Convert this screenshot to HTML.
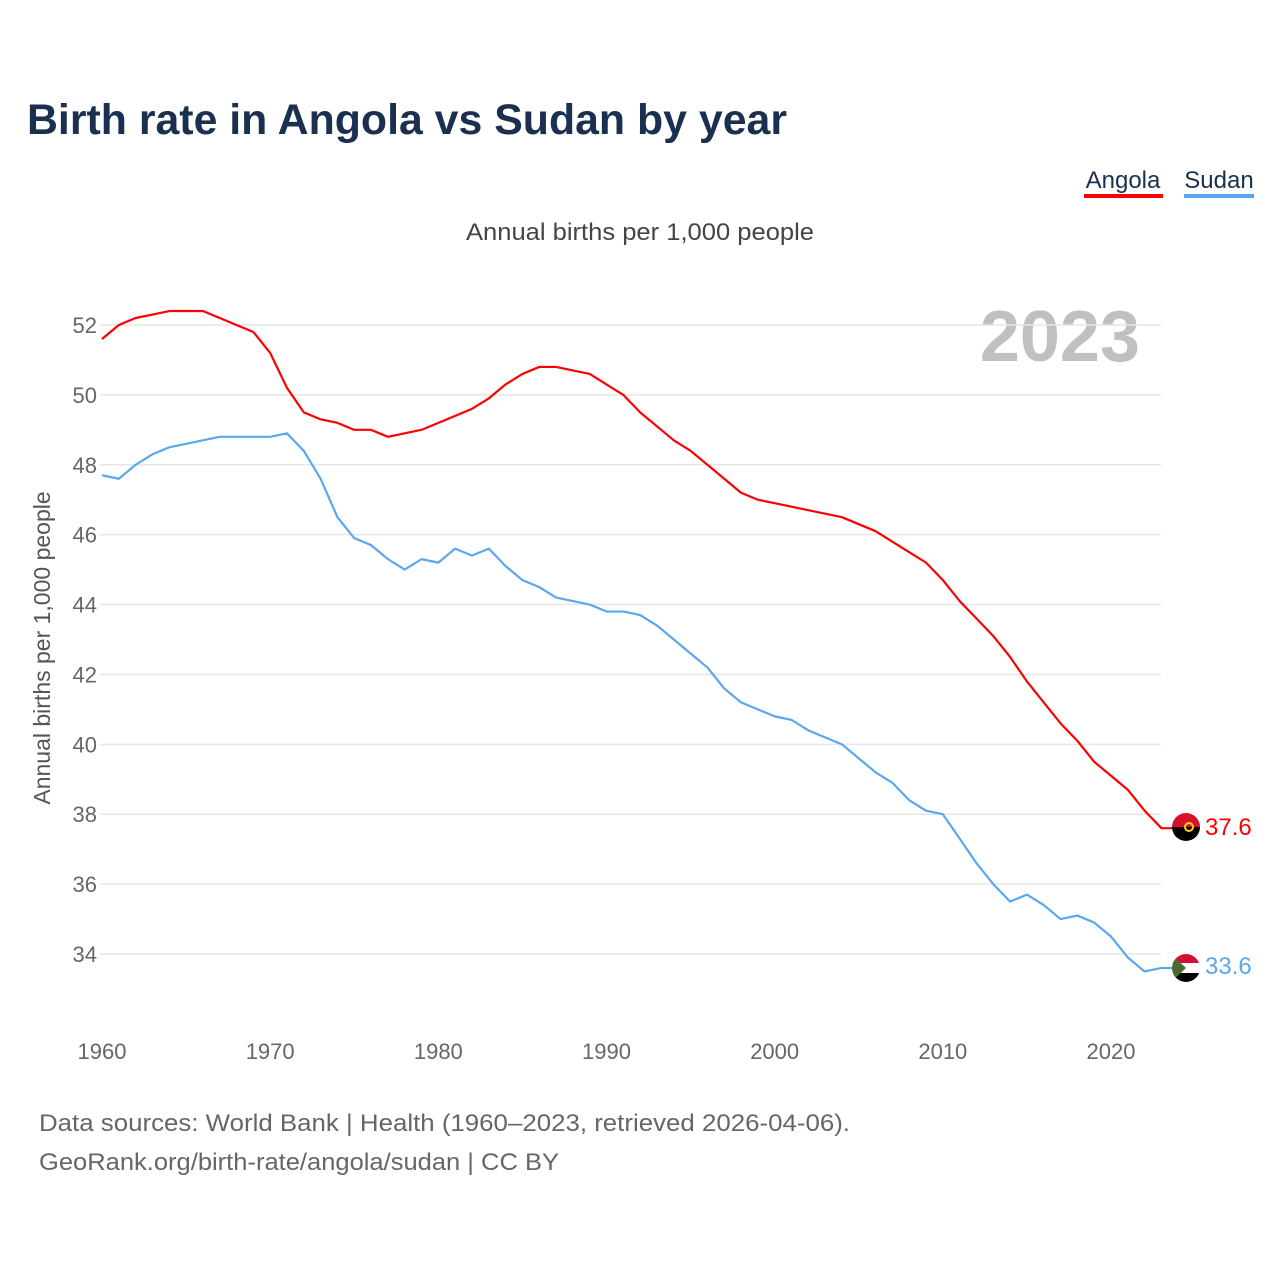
<!DOCTYPE html>
<html><head><meta charset="utf-8"><style>
body{margin:0;background:#fff;font-family:"Liberation Sans",sans-serif}
svg text{font-family:"Liberation Sans",sans-serif}
</style></head><body>
<svg width="1280" height="1280">
<text x="27" y="134" font-size="43" font-weight="bold" fill="#1b3050" textLength="760" lengthAdjust="spacingAndGlyphs">Birth rate in Angola vs Sudan by year</text>
<g>
<text x="1123" y="188" font-size="24" fill="#1b3050" text-anchor="middle">Angola</text>
<rect x="1084" y="194" width="79" height="4" fill="#ff0000"/>
<text x="1219" y="188" font-size="24" fill="#1b3050" text-anchor="middle">Sudan</text>
<rect x="1184" y="194" width="70" height="4" fill="#5aa7ee"/>
</g>
<text x="466" y="240" font-size="24" fill="#444" textLength="348" lengthAdjust="spacingAndGlyphs">Annual births per 1,000 people</text>
<text x="1140" y="361" font-size="72" font-weight="bold" fill="#c0c0c0" text-anchor="end">2023</text>
<text transform="translate(50,648) rotate(-90)" font-size="23" fill="#555" text-anchor="middle">Annual births per 1,000 people</text>
<g id="grid"></g><g id="xt"></g><g id="lines"></g>
<g>
<clipPath id="ca"><circle cx="1186" cy="827" r="14"/></clipPath>
<g clip-path="url(#ca)"><rect x="1170" y="812" width="32" height="15" fill="#d8102a"/><rect x="1170" y="827" width="32" height="15" fill="#000"/><circle cx="1189" cy="827" r="4" fill="none" stroke="#f9d616" stroke-width="2"/></g>
</g>
<text x="1205" y="835" font-size="24" fill="#ff0000">37.6</text>
<g>
<clipPath id="cs"><circle cx="1186" cy="968" r="14"/></clipPath>
<g clip-path="url(#cs)"><rect x="1170" y="953" width="32" height="10" fill="#d21034"/><rect x="1170" y="963" width="32" height="10" fill="#fff"/><rect x="1170" y="973" width="32" height="10" fill="#000"/><polygon points="1170,953 1186,968 1170,983" fill="#4d6b2e"/></g>
</g>
<text x="1205" y="974" font-size="24" fill="#5aa7ee">33.6</text>
<text x="39" y="1131" font-size="24" fill="#666" textLength="811" lengthAdjust="spacingAndGlyphs">Data sources: World Bank | Health (1960–2023, retrieved 2026-04-06).</text>
<text x="39" y="1170" font-size="24" fill="#666" textLength="520" lengthAdjust="spacingAndGlyphs">GeoRank.org/birth-rate/angola/sudan | CC BY</text>
</svg>
<script>
const years=[];for(let y=1960;y<=2023;y++)years.push(y);
const angola=[51.6,52.0,52.2,52.3,52.4,52.4,52.4,52.2,52.0,51.8,51.2,50.2,49.5,49.3,49.2,49.0,49.0,48.8,48.9,49.0,49.2,49.4,49.6,49.9,50.3,50.6,50.8,50.8,50.7,50.6,50.3,50.0,49.5,49.1,48.7,48.4,48.0,47.6,47.2,47.0,46.9,46.8,46.7,46.6,46.5,46.3,46.1,45.8,45.5,45.2,44.7,44.1,43.6,43.1,42.5,41.8,41.2,40.6,40.1,39.5,39.1,38.7,38.1,37.6];
const sudan=[47.7,47.6,48.0,48.3,48.5,48.6,48.7,48.8,48.8,48.8,48.8,48.9,48.4,47.6,46.5,45.9,45.7,45.3,45.0,45.3,45.2,45.6,45.4,45.6,45.1,44.7,44.5,44.2,44.1,44.0,43.8,43.8,43.7,43.4,43.0,42.6,42.2,41.6,41.2,41.0,40.8,40.7,40.4,40.2,40.0,39.6,39.2,38.9,38.4,38.1,38.0,37.3,36.6,36.0,35.5,35.7,35.4,35.0,35.1,34.9,34.5,33.9,33.5,33.6];
const yTicks=[34,36,38,40,42,44,46,48,50,52];
const xTicks=[1960,1970,1980,1990,2000,2010,2020];
const X=v=>102+(v-1960)*(1111-102)/60;
const Y=v=>954-(v-34)*(954-325)/18;
const NS='http://www.w3.org/2000/svg';
const grid=document.getElementById('grid'),xt=document.getElementById('xt'),lines=document.getElementById('lines');
yTicks.forEach(t=>{
 const l=document.createElementNS(NS,'line');
 l.setAttribute('x1',100);l.setAttribute('x2',1161);l.setAttribute('y1',Y(t));l.setAttribute('y2',Y(t));
 l.setAttribute('stroke','#e6e6e6');l.setAttribute('stroke-width','1.5');
 
 
 grid.appendChild(l);
 const tx=document.createElementNS(NS,'text');
 tx.setAttribute('x',97);tx.setAttribute('y',Y(t)+8);tx.setAttribute('text-anchor','end');
 tx.setAttribute('font-size','22');tx.setAttribute('fill','#666');tx.textContent=t;
 
 
 grid.appendChild(tx);
});
xTicks.forEach(t=>{
 const tx=document.createElementNS(NS,'text');
 tx.setAttribute('x',X(t));tx.setAttribute('y',1059);tx.setAttribute('text-anchor','middle');
 tx.setAttribute('font-size','22');tx.setAttribute('fill','#666');tx.textContent=t;
 
 
 xt.appendChild(tx);
});
function line(data,color,name){
 const p=document.createElementNS(NS,'polyline');
 const pts=data.map((v,i)=>X(years[i])+','+Y(v));
 pts.push('1172,'+Y(data[data.length-1]));
 p.setAttribute('points',pts.join(' '));
 p.setAttribute('fill','none');p.setAttribute('stroke',color);p.setAttribute('stroke-width','2.2');
 p.setAttribute('stroke-linejoin','round');
 
 
 lines.appendChild(p);
}
line(sudan,'#5aa7ee','sudan-line');
line(angola,'#ff0000','angola-line');
</script>
</body></html>
